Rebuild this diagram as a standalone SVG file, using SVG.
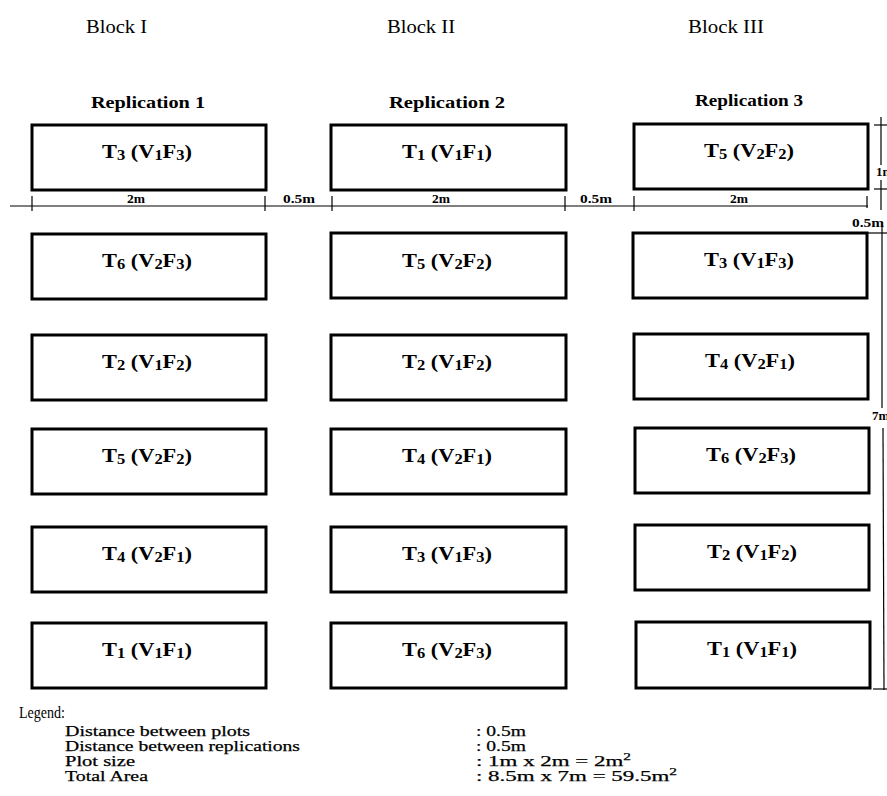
<svg xmlns="http://www.w3.org/2000/svg" width="887" height="796" viewBox="0 0 887 796">
<style>
text{font-family:"Liberation Serif","Times New Roman",serif;fill:#000}
.box{fill:#fff;stroke:#000;stroke-width:3}
.lbl{font-weight:bold;font-size:19px;text-anchor:middle}
.s{font-size:14px}
.hdr{font-size:18px}
.rep{font-weight:bold;font-size:17px;text-anchor:middle}
.dim{stroke:#000;stroke-width:1.2;fill:none}
.dt{font-weight:bold;font-size:13px}
.leg{font-size:15px;stroke:#000;stroke-width:0.25}
.sup{font-size:10px}
</style>
<rect width="887" height="796" fill="#fff"/>
<g id="headers">
<text class="hdr" x="86" y="33" textLength="61" lengthAdjust="spacingAndGlyphs">Block I</text>
<text class="hdr" x="387" y="33" textLength="68" lengthAdjust="spacingAndGlyphs">Block II</text>
<text class="hdr" x="688" y="33" textLength="76" lengthAdjust="spacingAndGlyphs">Block III</text>
<text class="rep" x="148" y="108" textLength="114" lengthAdjust="spacingAndGlyphs">Replication 1</text>
<text class="rep" x="447" y="108" textLength="116" lengthAdjust="spacingAndGlyphs">Replication 2</text>
<text class="rep" x="749" y="106" textLength="108" lengthAdjust="spacingAndGlyphs">Replication 3</text>
</g>
<g id="connectors">
<line class="dim" x1="10" y1="206" x2="868" y2="206"/>
<line class="dim" x1="32" y1="196" x2="32" y2="211"/>
<line class="dim" x1="265" y1="196" x2="265" y2="211"/>
<line class="dim" x1="332" y1="196" x2="332" y2="211"/>
<line class="dim" x1="565" y1="196" x2="565" y2="211"/>
<line class="dim" x1="634" y1="196" x2="634" y2="211"/>
<line class="dim" x1="867" y1="196" x2="867" y2="208"/>
<line class="dim" x1="881" y1="117" x2="881" y2="165"/>
<line class="dim" x1="881" y1="180" x2="881" y2="210"/>
<line class="dim" x1="874" y1="125" x2="887" y2="125"/>
<line class="dim" x1="874" y1="189" x2="887" y2="189"/>
<line class="dim" x1="866" y1="233" x2="887" y2="233"/>
<line class="dim" x1="882" y1="227" x2="882" y2="408"/>
<line class="dim" x1="883" y1="428" x2="884" y2="690"/>
<line class="dim" x1="873" y1="689" x2="887" y2="689"/>
</g>
<g id="dimension-labels">
<text class="dt" x="136" y="203" text-anchor="middle" textLength="18" lengthAdjust="spacingAndGlyphs">2m</text>
<text class="dt" x="441" y="203" text-anchor="middle" textLength="18" lengthAdjust="spacingAndGlyphs">2m</text>
<text class="dt" x="739" y="203" text-anchor="middle" textLength="18" lengthAdjust="spacingAndGlyphs">2m</text>
<text class="dt" x="283" y="203" textLength="32" lengthAdjust="spacingAndGlyphs">0.5m</text>
<text class="dt" x="580" y="203" textLength="32" lengthAdjust="spacingAndGlyphs">0.5m</text>
<text class="dt" x="852" y="227" textLength="32" lengthAdjust="spacingAndGlyphs">0.5m</text>
<text class="dt" x="876" y="176">1m</text>
<text class="dt" x="872" y="420">7m</text>
</g>
<g id="r1c1"><rect class="box" x="32" y="125" width="234" height="65"/><text class="lbl" x="147" y="158" textLength="90" lengthAdjust="spacingAndGlyphs">T<tspan class="s" dy="2">3</tspan><tspan dy="-2"> (V</tspan><tspan class="s" dy="2">1</tspan><tspan dy="-2">F</tspan><tspan class="s" dy="2">3</tspan><tspan dy="-2">)</tspan></text></g>
<g id="r2c1"><rect class="box" x="32" y="234" width="234" height="65"/><text class="lbl" x="147" y="267" textLength="90" lengthAdjust="spacingAndGlyphs">T<tspan class="s" dy="2">6</tspan><tspan dy="-2"> (V</tspan><tspan class="s" dy="2">2</tspan><tspan dy="-2">F</tspan><tspan class="s" dy="2">3</tspan><tspan dy="-2">)</tspan></text></g>
<g id="r3c1"><rect class="box" x="32" y="335" width="234" height="65"/><text class="lbl" x="147" y="368" textLength="90" lengthAdjust="spacingAndGlyphs">T<tspan class="s" dy="2">2</tspan><tspan dy="-2"> (V</tspan><tspan class="s" dy="2">1</tspan><tspan dy="-2">F</tspan><tspan class="s" dy="2">2</tspan><tspan dy="-2">)</tspan></text></g>
<g id="r4c1"><rect class="box" x="32" y="429" width="234" height="65"/><text class="lbl" x="147" y="462" textLength="90" lengthAdjust="spacingAndGlyphs">T<tspan class="s" dy="2">5</tspan><tspan dy="-2"> (V</tspan><tspan class="s" dy="2">2</tspan><tspan dy="-2">F</tspan><tspan class="s" dy="2">2</tspan><tspan dy="-2">)</tspan></text></g>
<g id="r5c1"><rect class="box" x="32" y="527" width="234" height="65"/><text class="lbl" x="147" y="560" textLength="90" lengthAdjust="spacingAndGlyphs">T<tspan class="s" dy="2">4</tspan><tspan dy="-2"> (V</tspan><tspan class="s" dy="2">2</tspan><tspan dy="-2">F</tspan><tspan class="s" dy="2">1</tspan><tspan dy="-2">)</tspan></text></g>
<g id="r6c1"><rect class="box" x="32" y="623" width="234" height="65"/><text class="lbl" x="147" y="656" textLength="90" lengthAdjust="spacingAndGlyphs">T<tspan class="s" dy="2">1</tspan><tspan dy="-2"> (V</tspan><tspan class="s" dy="2">1</tspan><tspan dy="-2">F</tspan><tspan class="s" dy="2">1</tspan><tspan dy="-2">)</tspan></text></g>
<g id="r1c2"><rect class="box" x="331" y="125" width="235" height="65"/><text class="lbl" x="447" y="158" textLength="90" lengthAdjust="spacingAndGlyphs">T<tspan class="s" dy="2">1</tspan><tspan dy="-2"> (V</tspan><tspan class="s" dy="2">1</tspan><tspan dy="-2">F</tspan><tspan class="s" dy="2">1</tspan><tspan dy="-2">)</tspan></text></g>
<g id="r2c2"><rect class="box" x="331" y="233" width="235" height="65"/><text class="lbl" x="447" y="267" textLength="90" lengthAdjust="spacingAndGlyphs">T<tspan class="s" dy="2">5</tspan><tspan dy="-2"> (V</tspan><tspan class="s" dy="2">2</tspan><tspan dy="-2">F</tspan><tspan class="s" dy="2">2</tspan><tspan dy="-2">)</tspan></text></g>
<g id="r3c2"><rect class="box" x="331" y="335" width="235" height="65"/><text class="lbl" x="447" y="368" textLength="90" lengthAdjust="spacingAndGlyphs">T<tspan class="s" dy="2">2</tspan><tspan dy="-2"> (V</tspan><tspan class="s" dy="2">1</tspan><tspan dy="-2">F</tspan><tspan class="s" dy="2">2</tspan><tspan dy="-2">)</tspan></text></g>
<g id="r4c2"><rect class="box" x="331" y="429" width="235" height="65"/><text class="lbl" x="447" y="462" textLength="90" lengthAdjust="spacingAndGlyphs">T<tspan class="s" dy="2">4</tspan><tspan dy="-2"> (V</tspan><tspan class="s" dy="2">2</tspan><tspan dy="-2">F</tspan><tspan class="s" dy="2">1</tspan><tspan dy="-2">)</tspan></text></g>
<g id="r5c2"><rect class="box" x="331" y="527" width="235" height="65"/><text class="lbl" x="447" y="560" textLength="90" lengthAdjust="spacingAndGlyphs">T<tspan class="s" dy="2">3</tspan><tspan dy="-2"> (V</tspan><tspan class="s" dy="2">1</tspan><tspan dy="-2">F</tspan><tspan class="s" dy="2">3</tspan><tspan dy="-2">)</tspan></text></g>
<g id="r6c2"><rect class="box" x="331" y="623" width="235" height="65"/><text class="lbl" x="447" y="656" textLength="90" lengthAdjust="spacingAndGlyphs">T<tspan class="s" dy="2">6</tspan><tspan dy="-2"> (V</tspan><tspan class="s" dy="2">2</tspan><tspan dy="-2">F</tspan><tspan class="s" dy="2">3</tspan><tspan dy="-2">)</tspan></text></g>
<g id="r1c3"><rect class="box" x="634" y="124" width="234" height="65"/><text class="lbl" x="749" y="157" textLength="90" lengthAdjust="spacingAndGlyphs">T<tspan class="s" dy="2">5</tspan><tspan dy="-2"> (V</tspan><tspan class="s" dy="2">2</tspan><tspan dy="-2">F</tspan><tspan class="s" dy="2">2</tspan><tspan dy="-2">)</tspan></text></g>
<g id="r2c3"><rect class="box" x="633" y="233" width="234" height="65"/><text class="lbl" x="749" y="266" textLength="90" lengthAdjust="spacingAndGlyphs">T<tspan class="s" dy="2">3</tspan><tspan dy="-2"> (V</tspan><tspan class="s" dy="2">1</tspan><tspan dy="-2">F</tspan><tspan class="s" dy="2">3</tspan><tspan dy="-2">)</tspan></text></g>
<g id="r3c3"><rect class="box" x="634" y="334" width="234" height="65"/><text class="lbl" x="750" y="367" textLength="90" lengthAdjust="spacingAndGlyphs">T<tspan class="s" dy="2">4</tspan><tspan dy="-2"> (V</tspan><tspan class="s" dy="2">2</tspan><tspan dy="-2">F</tspan><tspan class="s" dy="2">1</tspan><tspan dy="-2">)</tspan></text></g>
<g id="r4c3"><rect class="box" x="635" y="428" width="234" height="65"/><text class="lbl" x="751" y="461" textLength="90" lengthAdjust="spacingAndGlyphs">T<tspan class="s" dy="2">6</tspan><tspan dy="-2"> (V</tspan><tspan class="s" dy="2">2</tspan><tspan dy="-2">F</tspan><tspan class="s" dy="2">3</tspan><tspan dy="-2">)</tspan></text></g>
<g id="r5c3"><rect class="box" x="635" y="525" width="234" height="65"/><text class="lbl" x="752" y="558" textLength="90" lengthAdjust="spacingAndGlyphs">T<tspan class="s" dy="2">2</tspan><tspan dy="-2"> (V</tspan><tspan class="s" dy="2">1</tspan><tspan dy="-2">F</tspan><tspan class="s" dy="2">2</tspan><tspan dy="-2">)</tspan></text></g>
<g id="r6c3"><rect class="box" x="636" y="622" width="234" height="66"/><text class="lbl" x="752" y="655" textLength="90" lengthAdjust="spacingAndGlyphs">T<tspan class="s" dy="2">1</tspan><tspan dy="-2"> (V</tspan><tspan class="s" dy="2">1</tspan><tspan dy="-2">F</tspan><tspan class="s" dy="2">1</tspan><tspan dy="-2">)</tspan></text></g>
<g id="legend">
<text x="19" y="718" font-size="16" textLength="46" lengthAdjust="spacingAndGlyphs">Legend:</text>
<text class="leg" x="65" y="736" textLength="185" lengthAdjust="spacingAndGlyphs">Distance between plots</text>
<text class="leg" x="65" y="751" textLength="235" lengthAdjust="spacingAndGlyphs">Distance between replications</text>
<text class="leg" x="65" y="766" textLength="70" lengthAdjust="spacingAndGlyphs">Plot size</text>
<text class="leg" x="65" y="781" textLength="83" lengthAdjust="spacingAndGlyphs">Total Area</text>
<text class="leg" x="476" y="736" textLength="50" lengthAdjust="spacingAndGlyphs">: 0.5m</text>
<text class="leg" x="476" y="751" textLength="50" lengthAdjust="spacingAndGlyphs">: 0.5m</text>
<text class="leg" x="476" y="766" textLength="155" lengthAdjust="spacingAndGlyphs">: 1m x 2m = 2m<tspan class="sup" dy="-6">2</tspan></text>
<text class="leg" x="476" y="781" textLength="201" lengthAdjust="spacingAndGlyphs">: 8.5m x 7m = 59.5m<tspan class="sup" dy="-6">2</tspan></text>
</g>
</svg>
